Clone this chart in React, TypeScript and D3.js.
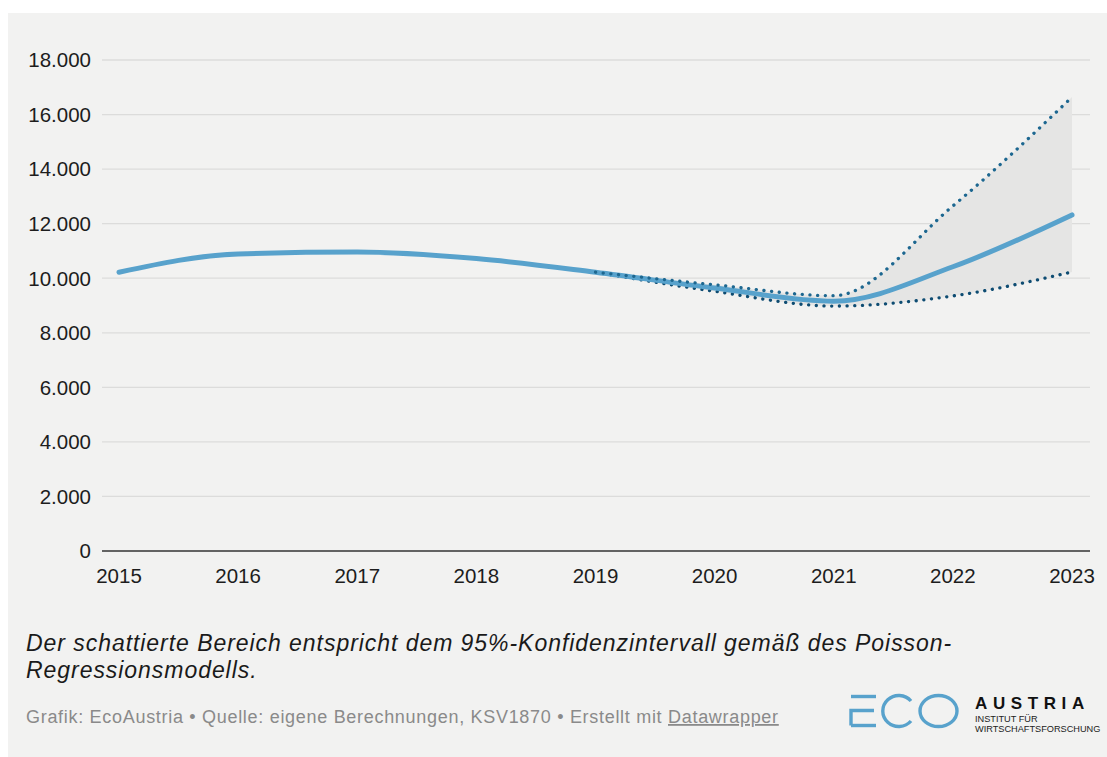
import React from "react";
import * as d3 from "d3";

const years = [2015, 2016, 2017, 2018, 2019, 2020, 2021, 2022, 2023];
const mainValues = [10220, 10890, 10960, 10720, 10220, 9640, 9160, 10420, 12320];
const ciYears = [2019, 2020, 2021, 2022, 2023];
const upperValues = [10220, 9760, 9360, 12650, 16640];
const lowerValues = [10220, 9520, 8980, 9350, 10230];
const yTicks = [0, 2000, 4000, 6000, 8000, 10000, 12000, 14000, 16000, 18000];
const xTicks = [2015, 2016, 2017, 2018, 2019, 2020, 2021, 2022, 2023];

const W = 1107;
const H = 757;
const FONT = "'Liberation Sans', Arial, sans-serif";

export default function App() {
  const x = d3.scaleLinear().domain([2015, 2023]).range([119, 1072]);
  const y = d3.scaleLinear().domain([0, 18000]).range([551, 60]);
  const fmt = (v: number) => d3.format(",")(v).replace(/,/g, ".");

  const mainLine = d3
    .line<number>()
    .x((_, i) => x(years[i]))
    .y((d) => y(d))
    .curve(d3.curveMonotoneX);
  const ciLine = d3
    .line<number>()
    .x((_, i) => x(ciYears[i]))
    .y((d) => y(d))
    .curve(d3.curveMonotoneX);
  const area = d3
    .area<number>()
    .x((_, i) => x(ciYears[i]))
    .y0((_, i) => y(lowerValues[i]))
    .y1((d) => y(d))
    .curve(d3.curveMonotoneX);

  return (
    <svg
      width={W}
      height={H}
      style={{ position: "absolute", left: 0, top: 0, fontFamily: FONT }}
    >
      <rect x={0} y={0} width={W} height={H} fill="#ffffff" />
      <rect x={8} y={13} width={1099} height={H - 13} fill="#f2f2f1" />

      {yTicks.map((t) => (
        <g key={t}>
          {t !== 0 && (
            <line x1={102} x2={1090} y1={y(t)} y2={y(t)} stroke="#dcdcdb" strokeWidth={1.3} />
          )}
          <text x={91} y={y(t)} dy="0.36em" textAnchor="end" fontSize={20.5} fill="#1d1d1d">
            {fmt(t)}
          </text>
        </g>
      ))}

      <path d={area(upperValues) || ""} fill="#e5e5e4" />

      <line x1={102} x2={1090} y1={y(0)} y2={y(0)} stroke="#333" strokeWidth={1.6} />

      {xTicks.map((t) => (
        <text key={t} x={x(t)} y={583} textAnchor="middle" fontSize={20.5} fill="#1d1d1d">
          {t}
        </text>
      ))}

      <path
        d={ciLine(lowerValues) || ""}
        fill="none"
        stroke="#0e4c72"
        strokeWidth={3.3}
        strokeLinecap="round"
        strokeDasharray="0.1 7.6"
      />
      <path
        d={mainLine(mainValues) || ""}
        fill="none"
        stroke="#58a2cc"
        strokeWidth={5}
        strokeLinecap="round"
      />
      <path
        d={ciLine(upperValues) || ""}
        fill="none"
        stroke="#1d6790"
        strokeWidth={3.3}
        strokeLinecap="round"
        strokeDasharray="0.1 7.6"
      />

      <text x={26} y={651} fontSize={23} letterSpacing={0.95} fontStyle="italic" fill="#1a1a1a">
        Der schattierte Bereich entspricht dem 95%-Konfidenzintervall gemäß des Poisson-
      </text>
      <text x={26} y={678} fontSize={23} letterSpacing={0.95} fontStyle="italic" fill="#1a1a1a">
        Regressionsmodells.
      </text>

      <text x={26} y={723} fontSize={18} letterSpacing={0.7} fill="#8a8a8a">
        Grafik: EcoAustria • Quelle: eigene Berechnungen, KSV1870 • Erstellt mit{" "}
        <tspan textDecoration="underline">Datawrapper</tspan>
      </text>

      {/* Logo */}
      <g stroke="#58a2cc" strokeWidth={3.4} fill="none">
        <path d="M851 696.5 H876" />
        <path d="M851 725.5 V710.5 H874" />
        <path d="M851 725.5 H876" />
        <path d="M911 701 A16 15.5 0 1 0 911 721" />
        <ellipse cx={938.5} cy={711} rx={18.5} ry={15.5} />
      </g>
      <text x={975} y={709} fontSize={17} fontWeight={700} letterSpacing={5.6} fill="#111">
        AUSTRIA
      </text>
      <text x={975} y={722} fontSize={9.2} fill="#222">
        INSTITUT FÜR
      </text>
      <text x={975} y={732} fontSize={9.2} fill="#222">
        WIRTSCHAFTSFORSCHUNG
      </text>
    </svg>
  );
}
